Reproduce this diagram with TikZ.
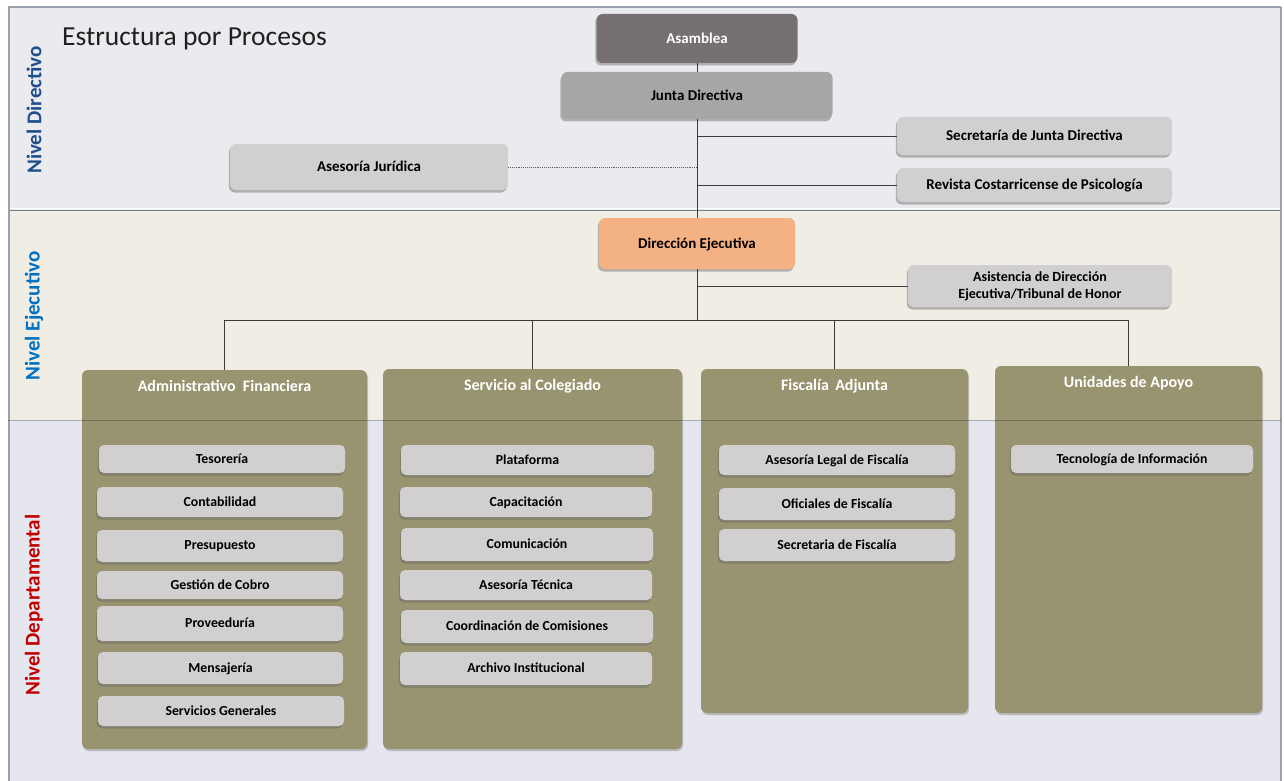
\documentclass[tikz,border=0pt]{standalone}
\usepackage{fontspec}
\setmainfont{Carlito}
\usetikzlibrary{shadows,calc}
\definecolor{bandA}{HTML}{EAEBEE}
\definecolor{bandB}{HTML}{F0EDE5}
\definecolor{bandC}{HTML}{E6E7EE}
\definecolor{bandline}{HTML}{9AA0AC}
\definecolor{asamfill}{HTML}{767170}
\definecolor{juntafill}{HTML}{A6A6A6}
\definecolor{itemfill}{HTML}{D1CFCF}
\definecolor{dirfill}{HTML}{F4B183}
\definecolor{olive}{HTML}{989470}
\definecolor{conn}{HTML}{3A3A3A}
\definecolor{lvlA}{HTML}{1F4E8C}
\definecolor{lvlB}{HTML}{0070C0}
\definecolor{lvlC}{HTML}{C00000}
\begin{document}
\begin{tikzpicture}[x=1pt,y=-1pt,
  box/.style={rounded corners=6pt, inner sep=0pt, outer sep=0pt, align=center,
    font=\bfseries\fontsize{15}{17}\selectfont, text depth=1pt,
    drop shadow={shadow xshift=-1.2pt, shadow yshift=-2.5pt, opacity=0.45, fill=black!60}},
  itembox/.style={box, fill=itemfill, rounded corners=5pt, font=\bfseries\fontsize{13.8}{16}\selectfont},
  colbox/.style={rounded corners=6pt, fill=olive, inner sep=0pt, outer sep=0pt,
    drop shadow={shadow xshift=1pt, shadow yshift=-2pt, opacity=0.35, fill=black!60}},
  coltitle/.style={text=white, font=\bfseries\fontsize{16}{18}\selectfont, inner sep=0pt},
  lvl/.style={rotate=90, font=\bfseries\fontsize{21}{23}\selectfont, inner sep=0pt},
  link/.style={draw=conn, line width=0.8pt},
  dotlink/.style={draw=conn!80, line width=0.9pt, densely dotted}
]
\useasboundingbox (0,0) rectangle (1284,781);
% background bands
\fill[white] (0,0) rectangle (1284,781);
\fill[bandA] (8,7) rectangle (1281,210);
\fill[bandB] (8,210) rectangle (1281,420);
\fill[bandC] (8,420) rectangle (1281,781);
\draw[bandline, line width=1.2pt] (8,7) -- (1281,7);
\draw[bandline!80!black, line width=1pt] (8,210) -- (1281,210);
\draw[white, line width=0.8pt] (8,208) -- (1281,208);
\draw[bandline, line width=2pt] (9,7) -- (9,781);
\draw[bandline, line width=1.2pt] (1281,7) -- (1281,781);

% level labels
\node[lvl, text=lvlA] (lvlDir) at (34,110) {Nivel Directivo};
\node[lvl, text=lvlB] (lvlEje) at (34,316) {Nivel Ejecutivo};
\node[lvl, text=lvlC] (lvlDep) at (34,605) {Nivel Departamental};

% title
\node[anchor=west, inner sep=0pt, font=\fontsize{27.5}{30}\selectfont, text=black!88] (title) at (62,39) {Estructura por Procesos};

% top nodes
\node[box, fill=asamfill, text=white, minimum width=201, minimum height=49] (asam) at (697,38.5) {Asamblea};
\node[box, fill=juntafill, minimum width=271, minimum height=47] (junta) at (697,95.5) {Junta Directiva};
\node[box, fill=itemfill, minimum width=275, minimum height=38] (secr) at (1034.5,136) {Secretaría de Junta Directiva};
\node[box, fill=itemfill, minimum width=275, minimum height=34] (rev) at (1034.5,185) {Revista Costarricense de Psicología};
\node[box, fill=itemfill, minimum width=278, minimum height=46] (jur) at (369,167) {Asesoría Jurídica};
\node[box, fill=dirfill, minimum width=196, minimum height=51] (dir) at (697,243.5) {Dirección Ejecutiva};
\node[box, fill=itemfill, minimum width=264, minimum height=42, font=\bfseries\fontsize{14}{17}\selectfont] (asis) at (1040,286) {Asistencia de Dirección\\Ejecutiva/Tribunal de Honor};

% columns
\node[colbox, minimum width=285, minimum height=379] (admin) at (224.5,559.5) {};
\node[colbox, minimum width=299, minimum height=380] (serv) at (532.5,559) {};
\node[colbox, minimum width=267, minimum height=344] (fisc) at (834.5,541) {};
\node[colbox, minimum width=267, minimum height=347] (unid) at (1128.5,539.5) {};
\draw[black, opacity=0.25, line width=1pt] (8,420) -- (1281,420);

\node[coltitle] (adminT) at (224.5,386) {Administrativo\ \ Financiera};
\node[coltitle] (servT) at (532.5,386) {Servicio al Colegiado};
\node[coltitle] (fiscT) at (834.5,386) {Fiscalía\ \,Adjunta};
\node[coltitle] (unidT) at (1128.5,383) {Unidades de Apoyo};

% admin items
\node[itembox, minimum width=246, minimum height=28] (teso) at (222,459) {Tesorería};
\node[itembox, minimum width=246, minimum height=30] (conta) at (220,502) {Contabilidad};
\node[itembox, minimum width=246, minimum height=32] (presu) at (220,546) {Presupuesto};
\node[itembox, minimum width=246, minimum height=28] (cobro) at (220,585) {Gestión de Cobro};
\node[itembox, minimum width=246, minimum height=35] (prove) at (220,623.5) {Proveeduría};
\node[itembox, minimum width=245, minimum height=32] (mensa) at (220.5,668) {Mensajería};
\node[itembox, minimum width=246, minimum height=30] (servg) at (221,711) {Servicios Generales};

% servicio items
\node[itembox, minimum width=253, minimum height=30] (plat) at (527.5,460) {Plataforma};
\node[itembox, minimum width=252, minimum height=30] (capa) at (526,502) {Capacitación};
\node[itembox, minimum width=252, minimum height=33] (comu) at (527,544.5) {Comunicación};
\node[itembox, minimum width=252, minimum height=30] (aset) at (526,585) {Asesoría Técnica};
\node[itembox, minimum width=252, minimum height=33] (coord) at (527,626.5) {Coordinación de Comisiones};
\node[itembox, minimum width=252, minimum height=33] (arch) at (526,668.5) {Archivo Institucional};

% fiscalia items
\node[itembox, minimum width=236, minimum height=30] (aslf) at (837,460) {Asesoría Legal de Fiscalía};
\node[itembox, minimum width=236, minimum height=32] (ofic) at (837,504) {Oficiales de Fiscalía};
\node[itembox, minimum width=236, minimum height=32] (secf) at (837,545) {Secretaria de Fiscalía};

% unidades items
\node[itembox, minimum width=242, minimum height=28] (tecn) at (1132,459) {Tecnología de Información};

% connectors
\coordinate (bus) at (697,320);
\draw[link] (asam.south) -- (junta.north);
\draw[link] (junta.south) -- (dir.north);
\draw[link] (junta.south |- secr.west) -- (secr.west);
\draw[link] (junta.south |- rev.west) -- (rev.west);
\draw[dotlink] (jur.east) -- (jur.east -| junta.south);
\draw[link] (dir.south) -- (bus);
\draw[link] (dir.south |- asis.west) -- (asis.west);
\draw[link] (bus -| admin.north) -- (bus -| unid.north);
\draw[link] (bus -| admin.north) -- (admin.north);
\draw[link] (bus -| serv.north) -- (serv.north);
\draw[link] (bus -| fisc.north) -- (fisc.north);
\draw[link] (bus -| unid.north) -- (unid.north);
\end{tikzpicture}
\end{document}
